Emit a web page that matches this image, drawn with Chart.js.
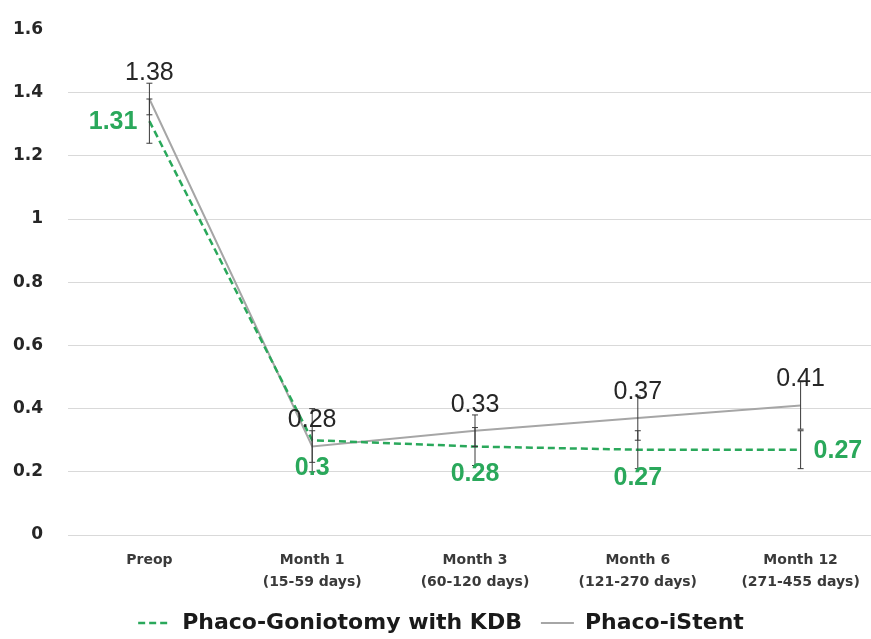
<!DOCTYPE html>
<html>
<head>
<meta charset="utf-8">
<script src="https://cdn.jsdelivr.net/npm/chart.js@4.4.1/dist/chart.umd.min.js"></script>
<style>
  html, body { margin: 0; padding: 0; background: #fff; overflow: hidden; }
  #wrap { width: 882px; height: 639px; }
</style>
</head>
<body>
<div id="wrap"><canvas id="iopChart" width="882" height="639"></canvas></div>
<script>
// visits (x axis)
const visits = [
  "Preop",
  ["Month 1", "(15-59 days)"],
  ["Month 3", "(60-120 days)"],
  ["Month 6", "(121-270 days)"],
  ["Month 12", "(271-455 days)"]
];
// Phaco-Goniotomy with KDB
const kdbValues = [1.31, 0.3, 0.28, 0.27, 0.27];
const kdbErrors = [0.07, 0.1, 0.06, 0.06, 0.06];
// Phaco-iStent
const istentValues = [1.38, 0.28, 0.33, 0.37, 0.41];
const istentErrors = [0.05, 0.05, 0.05, 0.07, 0.075];
// y axis ticks
const yMin = 0, yMax = 1.6, yStep = 0.2;

const green = "#2aa85b";
const gray = "#a6a6a6";

// error bars drawn from the y scale
const errorBars = {
  id: "errorBars",
  afterDatasetsDraw(chart) {
    const ctx = chart.ctx;
    const y = chart.scales.y;
    ctx.save();
    ctx.strokeStyle = "#3a3a3a";
    ctx.lineWidth = 1;
    chart.data.datasets.forEach((ds, i) => {
      const meta = chart.getDatasetMeta(i);
      meta.data.forEach((pt, j) => {
        const v = ds.data[j], e = ds.errors[j];
        const top = y.getPixelForValue(v + e);
        const bot = y.getPixelForValue(v - e);
        ctx.beginPath();
        ctx.moveTo(pt.x, top); ctx.lineTo(pt.x, bot);
        ctx.moveTo(pt.x - 3, top); ctx.lineTo(pt.x + 3, top);
        ctx.moveTo(pt.x - 3, bot); ctx.lineTo(pt.x + 3, bot);
        ctx.stroke();
      });
    });
    ctx.restore();
  }
};

// value labels next to each point
const valueLabels = {
  id: "valueLabels",
  afterDatasetsDraw(chart) {
    const ctx = chart.ctx;
    ctx.save();
    chart.data.datasets.forEach((ds, i) => {
      const meta = chart.getDatasetMeta(i);
      ctx.font = ds.labelFont;
      ctx.fillStyle = ds.labelColor;
      meta.data.forEach((pt, j) => {
        const txt = String(ds.data[j]);
        const pos = ds.labelPos[j];
        ctx.textBaseline = "middle";
        if (pos === "above") {
          ctx.textAlign = "center";
          ctx.fillText(txt, pt.x, pt.y - 26);
        } else if (pos === "below") {
          ctx.textAlign = "center";
          ctx.fillText(txt, pt.x, pt.y + 28);
        } else if (pos === "left") {
          ctx.textAlign = "right";
          ctx.fillText(txt, pt.x - 12, pt.y + 1);
        } else {
          ctx.textAlign = "left";
          ctx.fillText(txt, pt.x + 13, pt.y + 1);
        }
      });
    });
    ctx.restore();
  }
};

new Chart(document.getElementById("iopChart"), {
  type: "line",
  data: {
    labels: visits,
    datasets: [
      {
        label: "Phaco-Goniotomy with KDB",
        data: kdbValues,
        errors: kdbErrors,
        borderColor: green,
        backgroundColor: green,
        borderWidth: 2.5,
        borderDash: [7, 4],
        pointRadius: 0,
        tension: 0,
        labelFont: "bold 25px 'Liberation Sans'",
        labelColor: green,
        labelPos: ["left", "below", "below", "below", "right"]
      },
      {
        label: "Phaco-iStent",
        data: istentValues,
        errors: istentErrors,
        borderColor: gray,
        backgroundColor: gray,
        borderWidth: 2,
        pointRadius: 0,
        tension: 0,
        labelFont: "25px 'Liberation Sans'",
        labelColor: "#262626",
        labelPos: ["above", "above", "above", "above", "above"]
      }
    ]
  },
  options: {
    responsive: false,
    animation: false,
    layout: { padding: { top: 29.5, right: 0, bottom: -5, left: 0 } },
    plugins: {
      tooltip: { enabled: false },
      legend: {
        position: "bottom",
        labels: {
          usePointStyle: true,
          pointStyle: "line",
          pointStyleWidth: 33,
          padding: 19,
          color: "#1a1a1a",
          font: { family: "DejaVu Sans", size: 22, weight: "bold" },
          generateLabels: chart =>
            Chart.defaults.plugins.legend.labels.generateLabels(chart).map((item, i) => {
              const ds = chart.data.datasets[i];
              item.lineDash = ds.borderDash || [];
              item.lineWidth = ds.borderWidth;
              item.strokeStyle = ds.borderColor;
              item.pointStyle = "line";
              return item;
            })
        }
      }
    },
    scales: {
      x: {
        offset: true,
        grid: { display: false, drawTicks: false },
        border: { display: false },
        afterFit: s => { s.height = 58; },
        ticks: {
          padding: 14,
          color: "#3a3a3a",
          maxRotation: 0,
          autoSkip: false,
          font: { family: "DejaVu Sans", size: 14, weight: "bold", lineHeight: 1.57 }
        }
      },
      y: {
        min: yMin,
        max: yMax,
        afterFit: s => { s.width = 68; },
        grid: {
          drawTicks: true,
          tickLength: 25,
          tickColor: "rgba(0,0,0,0)",
          color: ctx => (ctx.tick && ctx.tick.value >= yMax - 1e-9) ? "rgba(0,0,0,0)" : "#d9d9d9"
        },
        border: { display: false },
        ticks: {
          stepSize: yStep,
          padding: 0,
          color: "#262626",
          font: { family: "DejaVu Sans", size: 17, weight: "bold" },
          callback: v => String(Math.round(v * 10) / 10)
        }
      }
    }
  },
  plugins: [errorBars, valueLabels]
});
</script>
</body>
</html>
